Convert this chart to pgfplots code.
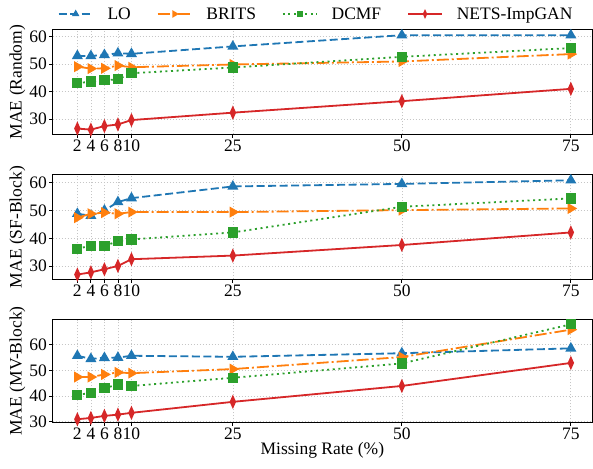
\documentclass[border=0pt]{standalone}
\usepackage{fontspec}
\setmainfont{Liberation Serif}
\usepackage{pgfplots}
\pgfplotsset{compat=1.18}
\definecolor{tabblue}{HTML}{1F77B4}
\definecolor{taborange}{HTML}{FF7F0E}
\definecolor{tabgreen}{HTML}{2CA02C}
\definecolor{tabred}{HTML}{D62728}
\newcommand{\fs}{\fontsize{17.5}{21}\selectfont}
\pgfplotsset{
  panel/.style={
    scale only axis, width=539.3pt,
    xmin=-1.65, xmax=78.13,
    xtick={2,4,6,8,10,25,50,75}, ytick={30,40,50,60},
    grid=major,
    major grid style={gray!45, line width=0.7pt, dash pattern=on 1.5pt off 1.5pt},
    axis line style={black, line width=1pt},
    tick align=outside, major tick length=3.5pt,
    tick style={black, line width=0.8pt},
    xtick pos=lower, ytick pos=left,
    /pgf/number format/assume math mode=true,
    ticklabel style={font=\fs},
    label style={font=\fs},
    xticklabel style={inner sep=1pt, yshift=-1pt},
    yticklabel style={inner sep=2pt},
    ylabel style={inner sep=0pt, yshift=2pt},
    every axis plot/.append style={line width=1.8pt},
    clip mode=individual,
    legend image code/.code={\draw[mark repeat=2, mark phase=2, line width=1.6pt, /tikz/every mark/.append style={scale=0.6}] plot coordinates {(0pt,0pt) (17pt,0pt) (34pt,0pt)};},
  },
  lo/.style={color=tabblue, dash pattern=on 8pt off 3.5pt, mark=triangle*, mark size=4.6pt, mark options={solid}},
  brits/.style={color=taborange, dash pattern=on 12pt off 3pt on 2pt off 3pt, mark=triangle*, mark size=4.6pt, mark options={solid, rotate=-90}},
  dcmf/.style={color=tabgreen, dash pattern=on 2pt off 3.6pt, mark=square*, mark size=4.2pt, mark options={solid}},
  nets/.style={color=tabred, solid, mark=diamond*, mark size=5pt, mark options={solid, xscale=0.6}},
}
\begin{document}
\begin{tikzpicture}[font=\fs]
\path[use as bounding box] (0,0) rectangle (593pt,468pt);
% Panel 1: Random
\begin{axis}[panel, at={(52.7pt,333.7pt)}, anchor=south west, height=104.3pt,
  ymin=24.4, ymax=62.5, ylabel={MAE (Random)},
  legend columns=4,
  legend style={at={(0,1)}, anchor=west, xshift=5pt, yshift=16pt, draw=none, fill=none, font=\fs,
    inner sep=0pt,
    /tikz/every odd column/.append style={column sep=13pt},
    /tikz/every even column/.append style={column sep=25pt},
    nodes={inner sep=1pt}},
]
\addplot[lo] coordinates {(2,53.05) (4,53.0) (6,53.4) (8,54.0) (10,53.8) (25,56.5) (50,60.6) (75,60.6)};
\addlegendentry{LO}
\addplot[brits] coordinates {(2,49.1) (4,48.4) (6,48.5) (8,49.5) (10,48.9) (25,49.9) (50,51.0) (75,53.7)};
\addlegendentry{BRITS}
\addplot[dcmf] coordinates {(2,43.0) (4,43.7) (6,44.1) (8,44.5) (10,46.7) (25,48.8) (50,52.7) (75,55.9)};
\addlegendentry{DCMF}
\addplot[nets] coordinates {(2,26.5) (4,26.1) (6,27.4) (8,28.0) (10,29.6) (25,32.3) (50,36.5) (75,41.0)};
\addlegendentry{NETS-ImpGAN}
\end{axis}
% Panel 2: SF-Block
\begin{axis}[panel, at={(52.7pt,188.7pt)}, anchor=south west, height=104.3pt,
  ymin=25.3, ymax=62.7, ylabel={MAE (SF-Block)}]
\addplot[lo] coordinates {(2,48.8) (4,48.1) (6,50.0) (8,53.0) (10,54.4) (25,58.6) (50,59.5) (75,60.8)};
\addplot[brits] coordinates {(2,47.4) (4,48.8) (6,49.2) (8,48.8) (10,49.4) (25,49.4) (50,50.1) (75,50.7)};
\addplot[dcmf] coordinates {(2,36.3) (4,37.3) (6,37.3) (8,38.9) (10,39.6) (25,42.1) (50,51.3) (75,54.3)};
\addplot[nets] coordinates {(2,27.0) (4,27.8) (6,28.9) (8,30.1) (10,32.5) (25,33.8) (50,37.6) (75,42.1)};
\end{axis}
% Panel 3: MV-Block
\begin{axis}[panel, at={(52.7pt,45.7pt)}, anchor=south west, height=102.6pt,
  ymin=29.7, ymax=69.8, ylabel={MAE (MV-Block)}, xlabel={Missing Rate (\%)},
  xlabel style={inner sep=0pt, yshift=-1pt}]
\addplot[lo] coordinates {(2,55.7) (4,54.5) (6,54.9) (8,55.0) (10,55.7) (25,55.3) (50,56.7) (75,58.6)};
\addplot[brits] coordinates {(2,47.4) (4,47.4) (6,48.4) (8,49.2) (10,48.9) (25,50.5) (50,55.2) (75,65.9)};
\addplot[dcmf] coordinates {(2,40.4) (4,41.2) (6,43.0) (8,44.5) (10,43.9) (25,47.1) (50,52.7) (75,68.0)};
\addplot[nets] coordinates {(2,30.9) (4,31.4) (6,32.2) (8,32.7) (10,33.4) (25,37.7) (50,43.9) (75,52.9)};
\end{axis}
\end{tikzpicture}
\end{document}
